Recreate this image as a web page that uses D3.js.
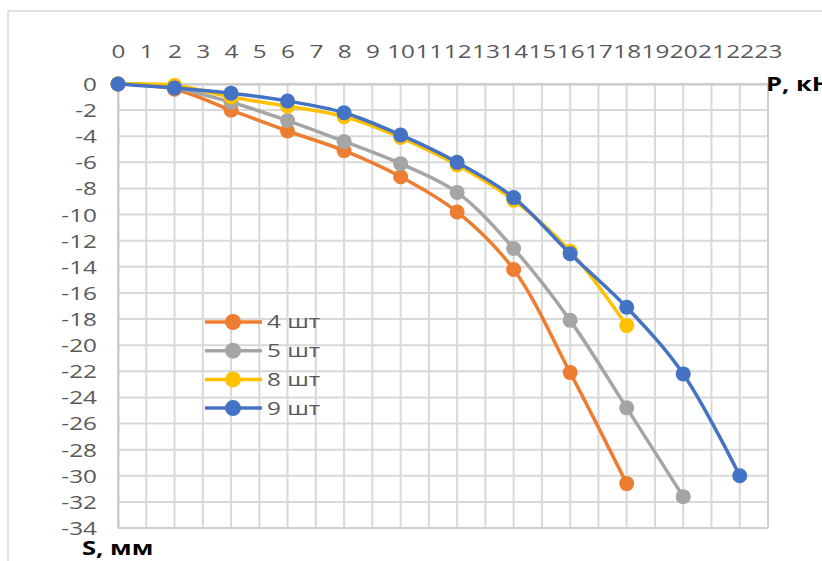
<!DOCTYPE html>
<html>
<head>
<meta charset="utf-8">
<script src="https://cdn.jsdelivr.net/npm/d3@7"></script>
<style>
  html, body { margin: 0; padding: 0; background: #ffffff; }
  svg { display: block; }
</style>
</head>
<body>
<svg id="chart" width="822" height="561"></svg>
<script>
// ---- data ----
const seriesNames = ["4 шт", "5 шт", "8 шт", "9 шт"];
const seriesColors = ["#ED7D31", "#A5A5A5", "#FFC000", "#4472C4"];
const loadP4 = [0, 2, 4, 6, 8, 10, 12, 14, 16, 18];
const settle4 = [0, -0.4, -2.0, -3.6, -5.1, -7.1, -9.8, -14.2, -22.1, -30.6];
const loadP5 = [0, 2, 4, 6, 8, 10, 12, 14, 16, 18, 20];
const settle5 = [0, -0.3, -1.4, -2.8, -4.4, -6.1, -8.3, -12.6, -18.1, -24.8, -31.6];
const loadP8 = [0, 2, 4, 6, 8, 10, 12, 14, 16, 18];
const settle8 = [0, -0.1, -1.0, -1.7, -2.5, -4.1, -6.2, -8.9, -12.8, -18.5];
const loadP9 = [0, 2, 4, 6, 8, 10, 12, 14, 16, 18, 20, 22];
const settle9 = [0, -0.3, -0.7, -1.3, -2.2, -3.9, -6.0, -8.7, -13.0, -17.1, -22.2, -30.0];
const xTickValues = [0,1,2,3,4,5,6,7,8,9,10,11,12,13,14,15,16,17,18,19,20,21,22,23];
const yTickValues = [0,-2,-4,-6,-8,-10,-12,-14,-16,-18,-20,-22,-24,-26,-28,-30,-32,-34];
const xAxisTitle = "P, кН";
const yAxisTitle = "S, мм";

const allX = [loadP4, loadP5, loadP8, loadP9];
const allY = [settle4, settle5, settle8, settle9];
const series = seriesNames.map((name, i) => ({
  name, color: seriesColors[i],
  points: allX[i].map((p, j) => ({ x: p, y: allY[i][j] }))
}));

// ---- layout ----
const svg = d3.select("#chart");
const FONT = "'Open Sans', 'Noto Sans', sans-serif";
const SX = 1.28;   // horizontal stretch of the text, as in the reference
const pL = 118, pR = 768, pT = 84, pB = 528;

const x = d3.scaleLinear().domain([0, 23]).range([pL, pR]);
const y = d3.scaleLinear().domain([0, -34]).range([pT, pB]);

// chart area border
svg.append("rect")
  .attr("x", 8).attr("y", 11).attr("width", 900).attr("height", 700)
  .attr("fill", "none").attr("stroke", "#d9d9d9").attr("stroke-width", 1.5);

// grid
const grid = svg.append("g");
grid.selectAll("line.v").data(xTickValues).join("line")
  .attr("x1", d => x(d)).attr("x2", d => x(d))
  .attr("y1", pT).attr("y2", pB)
  .attr("stroke", "#d9d9d9").attr("stroke-width", 2);
grid.selectAll("line.h").data(yTickValues).join("line")
  .attr("x1", pL).attr("x2", pR)
  .attr("y1", d => y(d)).attr("y2", d => y(d))
  .attr("stroke", "#d9d9d9").attr("stroke-width", 2);

// axes (top x axis, left y axis)
const xAxis = svg.append("g").attr("transform", `translate(0,${pT})`)
  .call(d3.axisTop(x).tickValues(xTickValues).tickSize(0).tickPadding(0).tickFormat(d3.format("d")));
xAxis.select(".domain").attr("stroke", "#c8c8c8").attr("stroke-width", 2);
xAxis.selectAll("text")
  .attr("y", 0).attr("dy", 0)
  .attr("transform", `translate(0,-26) scale(${SX},1)`)
  .attr("fill", "#595959").style("font-family", FONT).style("font-size", "19px");

const yAxis = svg.append("g").attr("transform", `translate(${pL},0)`)
  .call(d3.axisLeft(y).tickValues(yTickValues).tickSize(0).tickPadding(0).tickFormat(d => d3.format("d")(d).replace("−", "-")));
yAxis.select(".domain").attr("stroke", "#c8c8c8").attr("stroke-width", 2);
yAxis.selectAll("text")
  .attr("x", 0).attr("dy", "0.34em")
  .attr("transform", `translate(-21,0) scale(${SX},1)`)
  .attr("fill", "#595959").style("font-family", FONT).style("font-size", "19px");

// plot border (right and bottom)
svg.append("line").attr("x1", pR).attr("x2", pR).attr("y1", pT).attr("y2", pB)
  .attr("stroke", "#d0d0d0").attr("stroke-width", 2);
svg.append("line").attr("x1", pL).attr("x2", pR).attr("y1", pB).attr("y2", pB)
  .attr("stroke", "#d0d0d0").attr("stroke-width", 2);

// series
const lineGen = d3.line().x(d => x(d.x)).y(d => y(d.y)).curve(d3.curveCatmullRom.alpha(0.5));
const sg = svg.append("g").selectAll("g").data(series).join("g");
sg.append("path")
  .attr("d", d => lineGen(d.points))
  .attr("fill", "none").attr("stroke", d => d.color)
  .attr("stroke-width", 3.5).attr("stroke-linejoin", "round").attr("stroke-linecap", "round");
sg.selectAll("circle").data(d => d.points.map(p => ({ ...p, color: d.color }))).join("circle")
  .attr("cx", d => x(d.x)).attr("cy", d => y(d.y)).attr("r", 7.5)
  .attr("fill", d => d.color);

// legend
const legend = svg.append("g").attr("transform", "translate(205,322)");
const li = legend.selectAll("g").data(series).join("g")
  .attr("transform", (d, i) => `translate(0,${i * 28.7})`);
li.append("line").attr("x1", 0).attr("x2", 57).attr("y1", 0).attr("y2", 0)
  .attr("stroke", d => d.color).attr("stroke-width", 3.5);
li.append("circle").attr("cx", 28).attr("cy", 0).attr("r", 8).attr("fill", d => d.color);
li.append("text")
  .attr("transform", `translate(62,0) scale(${SX},1)`)
  .attr("dy", "0.34em")
  .attr("fill", "#595959").style("font-family", FONT).style("font-size", "19px")
  .text(d => d.name);

// axis titles
svg.append("text")
  .attr("transform", `translate(766,91) scale(${SX},1)`)
  .attr("fill", "#000").style("font-family", FONT).style("font-size", "20px").style("font-weight", "bold")
  .text(xAxisTitle);
svg.append("text")
  .attr("transform", `translate(82,555) scale(${SX},1)`)
  .attr("fill", "#000").style("font-family", FONT).style("font-size", "20px").style("font-weight", "bold")
  .text(yAxisTitle);
</script>
</body>
</html>
